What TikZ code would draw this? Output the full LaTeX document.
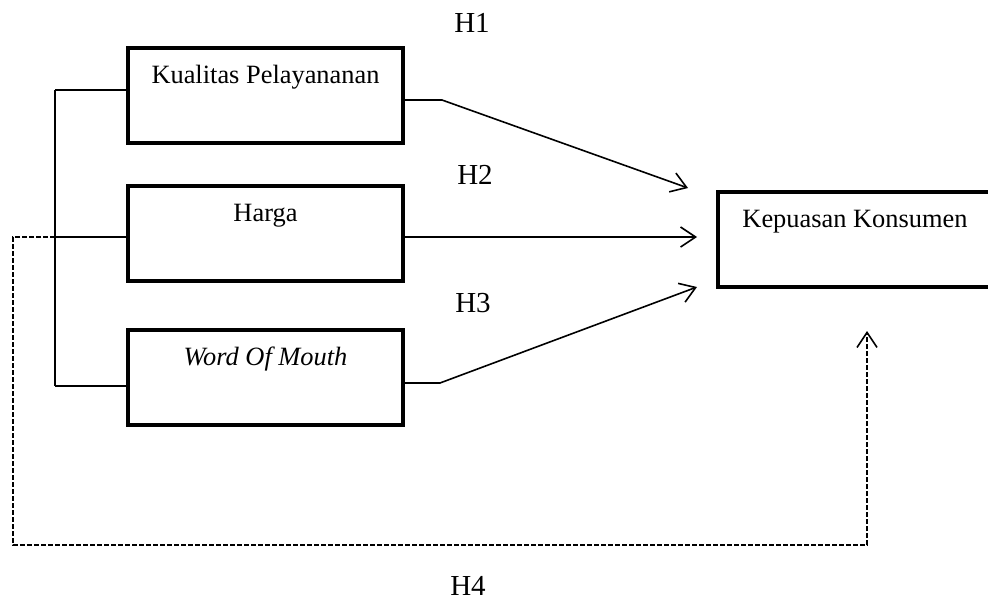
\documentclass[tikz,border=0pt]{standalone}
\usepackage{fontspec}
\setmainfont{Liberation Serif}
\usetikzlibrary{arrows.meta}

\begin{document}
\begin{tikzpicture}[x=1pt, y=-1pt,
	box/.style={rectangle, draw=black, line width=4pt, minimum width=275pt, inner sep=0pt, text height=36pt, text depth=59pt, font=\fontsize{26.4}{30}\selectfont},
	hlabel/.style={font=\fontsize{29}{34}\selectfont},
	conn/.style={draw=black, line width=1.6pt},
	arr/.style={conn, -{Straight Barb[length=15pt,width=20pt]}},
	dashline/.style={conn, dash pattern=on 5pt off 2pt}]
			\useasboundingbox (0,0) rectangle (988,602);
			
			\node[box] (kp) at (265.5,95.5){Kualitas Pelayananan};
			\node[box] (hg) at (265.5,233){Harga};
			\node[box] (wom) at (265.5,377){\itshape Word Of Mouth};
			\node[box] (kk) at (855,239){Kepuasan Konsumen};
			
			\node[hlabel] (h1) at (472,23){H1};
			\node[hlabel] (h2) at (475,175){H2};
			\node[hlabel] (h3) at (473,303){H3};
			\node[hlabel] (h4) at (468,586){H4};
			
			\coordinate (br1) at (55,90);
			\coordinate (br2) at (55,237);
			\coordinate (br3) at (55,386);
			\coordinate (b1) at (442,100);
			\coordinate (t1) at (688,188);
			\coordinate (t2) at (697,237);
			\coordinate (b3) at (440,383);
			\coordinate (t3) at (697,287);
			\coordinate (d1) at (13,237);
			\coordinate (d2) at (13,545);
			\coordinate (d3) at (867,545);
			\coordinate (t4) at (867,331);
			
			\path[conn] (br1) -- (br3);
			\path[conn] (br1) -- (br1 -| kp.west);
			\path[conn] (br2) -- (br2 -| hg.west);
			\path[conn] (br3) -- (br3 -| wom.west);
			
			\path[arr] (kp.east |- b1) -- (b1) -- (t1);
			\path[arr] (hg.east |- t2) -- (t2);
			\path[arr] (wom.east |- b3) -- (b3) -- (t3);
			
			\path[dashline, -{Straight Barb[length=15pt,width=20pt]}] (br2) -- (d1) -- (d2) -- (d3) -- (t4);
			\end{tikzpicture}
\end{document}
